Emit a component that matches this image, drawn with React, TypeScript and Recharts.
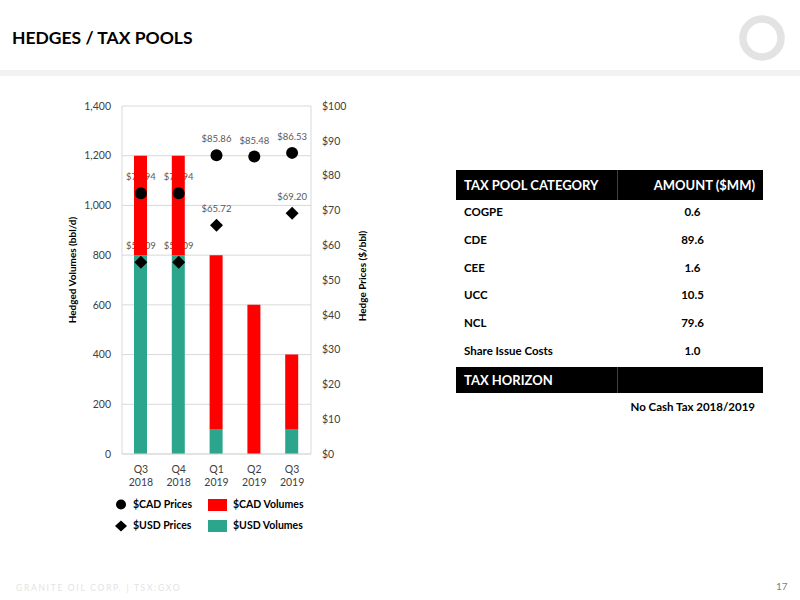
import React from 'react';
import { ComposedChart, Bar, Scatter, XAxis, YAxis, CartesianGrid } from 'recharts';

const quarters = ['Q3 2018', 'Q4 2018', 'Q1 2019', 'Q2 2019', 'Q3 2019'];
const usdVolumes = [800, 800, 100, 0, 100];
const cadVolumes = [400, 400, 700, 600, 300];
const cadPrices: (number | null)[] = [74.94, 74.94, 85.86, 85.48, 86.53];
const usdPrices: (number | null)[] = [55.09, 55.09, 65.72, null, 69.2];
const volumeTicks = [0, 200, 400, 600, 800, 1000, 1200, 1400];
const priceTicks = [0, 10, 20, 30, 40, 50, 60, 70, 80, 90, 100];

const taxCategories = ['COGPE', 'CDE', 'CEE', 'UCC', 'NCL', 'Share Issue Costs'];
const taxAmounts = ['0.6', '89.6', '1.6', '10.5', '79.6', '1.0'];

const data = quarters.map((q, i) => ({
  q,
  usd: usdVolumes[i],
  cad: cadVolumes[i],
  cadPrice: cadPrices[i],
  usdPrice: usdPrices[i],
}));

const FONT = 'Lato, "Open Sans", sans-serif';
const RED = '#FF0000';
const TEAL = '#2BA58B';
const GRID = '#D9D9D9';
const TICK = '#404040';
const PLABEL = '#595959';

const valid = (p: any, key: string) =>
  p && p.payload && p.payload[key] != null && p.cy != null && !isNaN(p.cy);

const circleShape = (p: any) =>
  valid(p, 'cadPrice') ? <circle cx={p.cx} cy={p.cy} r={6} fill="#000" /> : <g />;

const diamondShape = (p: any) => {
  if (!valid(p, 'usdPrice')) return <g />;
  const { cx, cy } = p;
  const d = 6.5;
  return <polygon points={`${cx},${cy - d} ${cx + d},${cy} ${cx},${cy + d} ${cx - d},${cy}`} fill="#000" />;
};

const labelShape = (key: string) => (p: any) => {
  if (!valid(p, key)) return <g />;
  return (
    <text x={p.cx} y={p.cy - 13} textAnchor="middle" fontSize={9.5} fill={PLABEL} fontFamily={FONT}>
      {`$${Number(p.payload[key]).toFixed(2)}`}
    </text>
  );
};

const QuarterTick = (p: any) => {
  const [a, b] = String(p.payload.value).split(' ');
  return (
    <text x={p.x} y={p.y} textAnchor="middle" fill={TICK} fontSize={10.5} fontFamily={FONT}>
      <tspan x={p.x} dy={11}>{a}</tspan>
      <tspan x={p.x} dy={13}>{b}</tspan>
    </text>
  );
};

const axisTitle = (text: string, side: 'left' | 'right', shiftY: number) => (props: any) => {
  const vb = props.viewBox || {};
  const x = side === 'left' ? vb.x + 10 : vb.x + vb.width - 9;
  const y = vb.y + vb.height / 2 + shiftY;
  return (
    <text
      x={x}
      y={y}
      transform={`rotate(-90, ${x}, ${y})`}
      textAnchor="middle"
      dominantBaseline="central"
      fontSize={10}
      fontWeight={700}
      fill="#000"
      fontFamily={FONT}
    >
      {text}
    </text>
  );
};

const legendText: React.CSSProperties = {
  position: 'absolute',
  fontSize: 10.5,
  fontWeight: 700,
  color: '#000',
  lineHeight: '12px',
};

export default function App() {
  const rowTop = (i: number) => 199 + i * 27.8;
  return (
    <div
      style={{
        position: 'absolute',
        left: 0,
        top: 0,
        width: 800,
        height: 600,
        background: '#fff',
        fontFamily: FONT,
        overflow: 'hidden',
      }}
    >
      <div style={{ position: 'absolute', left: 12, top: 27, fontSize: 17.5, fontWeight: 700, color: '#000', lineHeight: '22px' }}>
        HEDGES / TAX POOLS
      </div>
      <div style={{ position: 'absolute', left: 0, top: 70, width: 800, height: 6, background: '#F2F2F2' }} />
      <svg style={{ position: 'absolute', left: 732, top: 8 }} width={60} height={60}>
        <circle cx={30} cy={30} r={19} fill="none" stroke="#E3E3E3" strokeWidth={7.5} />
      </svg>

      <div style={{ position: 'absolute', left: 0, top: 0 }}>
        <ComposedChart
          width={400}
          height={500}
          data={data}
          margin={{ top: 106, right: 29, bottom: 0, left: 62 }}
          barSize={13}
        >
          <CartesianGrid yAxisId="left" vertical={false} stroke={GRID} />
          <XAxis
            dataKey="q"
            height={46}
            tick={<QuarterTick />}
            tickLine={false}
            axisLine={{ stroke: GRID }}
            interval={0}
          />
          <YAxis
            yAxisId="left"
            width={60}
            domain={[0, 1400]}
            ticks={volumeTicks}
            tickFormatter={(v: number) => v.toLocaleString('en-US')}
            tick={{ fill: TICK, fontSize: 10.5, fontFamily: FONT }}
            tickLine={false}
            tickMargin={5}
            axisLine={{ stroke: GRID }}
            label={{ content: axisTitle('Hedged Volumes (bbl/d)', 'left', -10) }}
          />
          <YAxis
            yAxisId="right"
            orientation="right"
            width={60}
            domain={[0, 100]}
            ticks={priceTicks}
            tickFormatter={(v: number) => `$${v}`}
            tick={{ fill: TICK, fontSize: 10.5, fontFamily: FONT }}
            tickLine={false}
            tickMargin={5}
            axisLine={{ stroke: GRID }}
            label={{ content: axisTitle('Hedge Prices ($/bbl)', 'right', -4) }}
          />
          <Scatter yAxisId="right" dataKey="cadPrice" shape={labelShape('cadPrice')} isAnimationActive={false} zIndex={250} />
          <Scatter yAxisId="right" dataKey="usdPrice" shape={labelShape('usdPrice')} isAnimationActive={false} zIndex={250} />
          <Bar yAxisId="left" dataKey="usd" stackId="v" fill={TEAL} isAnimationActive={false} />
          <Bar yAxisId="left" dataKey="cad" stackId="v" fill={RED} isAnimationActive={false} />
          <Scatter yAxisId="right" dataKey="cadPrice" shape={circleShape} isAnimationActive={false} />
          <Scatter yAxisId="right" dataKey="usdPrice" shape={diamondShape} isAnimationActive={false} />
        </ComposedChart>
      </div>

      {/* legend */}
      <svg style={{ position: 'absolute', left: 110, top: 495 }} width={24} height={40}>
        <circle cx={11} cy={9.5} r={5} fill="#000" />
        <polygon points="11,25.5 17,31 11,36.5 5,31" fill="#000" />
      </svg>
      <div style={{ ...legendText, left: 133, top: 498 }}>$CAD Prices</div>
      <div style={{ ...legendText, left: 133, top: 519 }}>$USD Prices</div>
      <div style={{ position: 'absolute', left: 208, top: 499, width: 19, height: 12, background: RED }} />
      <div style={{ position: 'absolute', left: 208, top: 520, width: 19, height: 12, background: TEAL }} />
      <div style={{ ...legendText, left: 233, top: 498 }}>$CAD Volumes</div>
      <div style={{ ...legendText, left: 233, top: 519 }}>$USD Volumes</div>

      {/* table */}
      <div style={{ position: 'absolute', left: 456, top: 170, width: 307, height: 30, background: '#000' }} />
      <div style={{ position: 'absolute', left: 617, top: 170, width: 1, height: 30, background: '#404040' }} />
      <div style={{ position: 'absolute', left: 464, top: 170, lineHeight: '30px', fontSize: 13, fontWeight: 700, color: '#fff' }}>
        TAX POOL CATEGORY
      </div>
      <div style={{ position: 'absolute', left: 618, width: 137, top: 170, lineHeight: '30px', fontSize: 13, fontWeight: 700, color: '#fff', textAlign: 'right' }}>
        AMOUNT ($MM)
      </div>
      {taxCategories.map((c, i) => (
        <React.Fragment key={c}>
          <div style={{ position: 'absolute', left: 464, top: rowTop(i), lineHeight: '26px', fontSize: 11.5, fontWeight: 700, color: '#000' }}>
            {c}
          </div>
          <div style={{ position: 'absolute', left: 620, width: 145, top: rowTop(i), lineHeight: '26px', fontSize: 11.5, fontWeight: 700, color: '#000', textAlign: 'center' }}>
            {taxAmounts[i]}
          </div>
        </React.Fragment>
      ))}
      <div style={{ position: 'absolute', left: 456, top: 367, width: 307, height: 26, background: '#000' }} />
      <div style={{ position: 'absolute', left: 617, top: 367, width: 1, height: 26, background: '#404040' }} />
      <div style={{ position: 'absolute', left: 464, top: 367, lineHeight: '26px', fontSize: 13, fontWeight: 700, color: '#fff' }}>
        TAX HORIZON
      </div>
      <div style={{ position: 'absolute', left: 560, width: 195, top: 395, lineHeight: '24px', fontSize: 11.5, fontWeight: 700, color: '#000', textAlign: 'right' }}>
        No Cash Tax 2018/2019
      </div>

      {/* footer */}
      <div style={{ position: 'absolute', left: 16, top: 582, fontSize: 8.5, letterSpacing: 1.7, color: '#E3E3E3', lineHeight: '12px' }}>
        GRANITE OIL CORP. | TSX:GXO
      </div>
      <div style={{ position: 'absolute', left: 776, top: 580, fontSize: 10, color: '#7F7F7F', lineHeight: '12px' }}>17</div>
    </div>
  );
}
